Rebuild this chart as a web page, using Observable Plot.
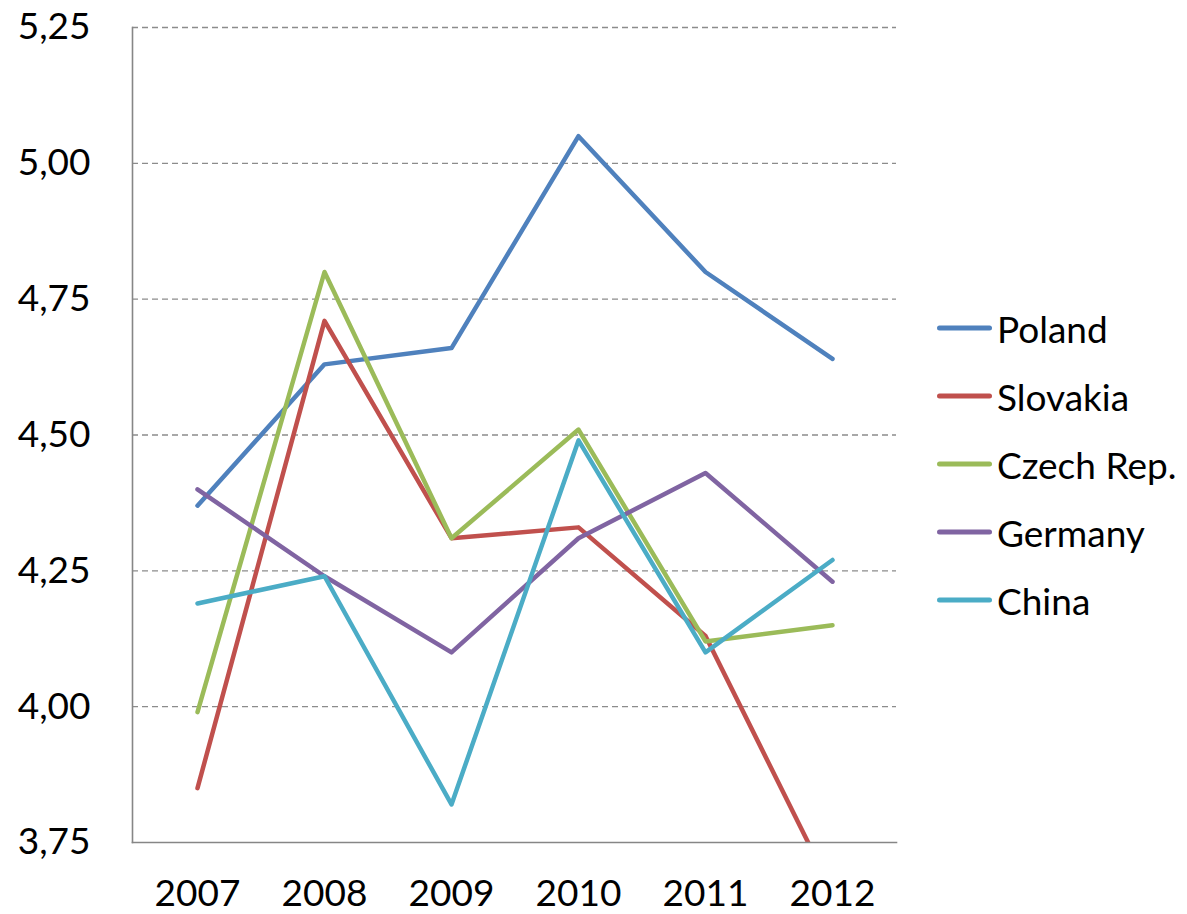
<!DOCTYPE html>
<html>
<head>
<meta charset="utf-8">
<script src="https://cdn.jsdelivr.net/npm/d3@7"></script>
<script src="https://cdn.jsdelivr.net/npm/@observablehq/plot@0.6"></script>
<style>
  html, body { margin: 0; padding: 0; background: #fff; }
  #wrap { position: relative; width: 1187px; height: 914px; }
  #legend { position: absolute; left: 937px; top: 0; font-family: Lato, sans-serif; font-size: 37px; color: #000; }
  .item { position: absolute; left: 0; display: flex; align-items: center; white-space: nowrap; transform: translateY(-50%); }
  .swatch { width: 55px; height: 5px; border-radius: 3px; margin-right: 5px; }
</style>
</head>
<body>
<div id="wrap"><div id="legend"></div></div>
<script>
const years = ["2007", "2008", "2009", "2010", "2011", "2012"];
const countries = ["Poland", "Slovakia", "Czech Rep.", "Germany", "China"];
const colors = ["#4F81BD", "#C0504D", "#9BBB59", "#8064A2", "#4BACC6"];
const poland   = [4.37, 4.63, 4.66, 5.05, 4.80, 4.64];
const slovakia = [3.85, 4.71, 4.31, 4.33, 4.13, 3.66];
const czech    = [3.99, 4.80, 4.31, 4.51, 4.12, 4.15];
const germany  = [4.40, 4.24, 4.10, 4.31, 4.43, 4.23];
const china    = [4.19, 4.24, 3.82, 4.49, 4.10, 4.27];
const yTicks = [3.75, 4.00, 4.25, 4.50, 4.75, 5.00, 5.25];

const seriesValues = [poland, slovakia, czech, germany, china];
const data = [];
countries.forEach((c, i) => years.forEach((y, j) => data.push({country: c, year: y, value: seriesValues[i][j]})));

const fmt = v => v.toFixed(2).replace(".", ",");

const chart = Plot.plot({
  width: 1187,
  height: 914,
  marginLeft: 132,
  marginRight: 291,
  marginTop: 27,
  marginBottom: 72,
  style: {fontFamily: "Lato, sans-serif", fontSize: "37px", color: "#000", background: "#fff"},
  x: {type: "point", domain: years, padding: 0.5, label: null},
  y: {domain: [3.75, 5.25], label: null},
  color: {domain: countries, range: colors},
  marks: [
    Plot.ruleY(yTicks.filter(t => t > 3.75), {stroke: "#8c8c8c", strokeWidth: 1.3, strokeDasharray: "6,4", strokeOpacity: 1}),
    Plot.axisY({ticks: yTicks, tickSize: 0, tickPadding: 42, tickFormat: fmt, label: null}),
    Plot.axisX({tickSize: 0, tickPadding: 37, label: null}),
    Plot.line(data, {x: "year", y: "value", z: "country", stroke: "country", strokeWidth: 4.5, strokeLinecap: "round", strokeLinejoin: "round", clip: true}),
    Plot.frame({anchor: "left", stroke: "#868686", strokeWidth: 1.6}),
    Plot.frame({anchor: "bottom", stroke: "#868686", strokeWidth: 1.6})
  ]
});
document.getElementById("wrap").prepend(chart);
chart.style.position = "absolute";
chart.style.left = "0";
chart.style.top = "0";

const legend = document.getElementById("legend");
const legendY = [328, 396, 464, 532, 600];
countries.forEach((c, i) => {
  const item = document.createElement("div");
  item.className = "item";
  item.style.top = legendY[i] + "px";
  const sw = document.createElement("span");
  sw.className = "swatch";
  sw.style.background = colors[i];
  const tx = document.createElement("span");
  tx.textContent = c;
  item.append(sw, tx);
  legend.append(item);
});
</script>
</body>
</html>
